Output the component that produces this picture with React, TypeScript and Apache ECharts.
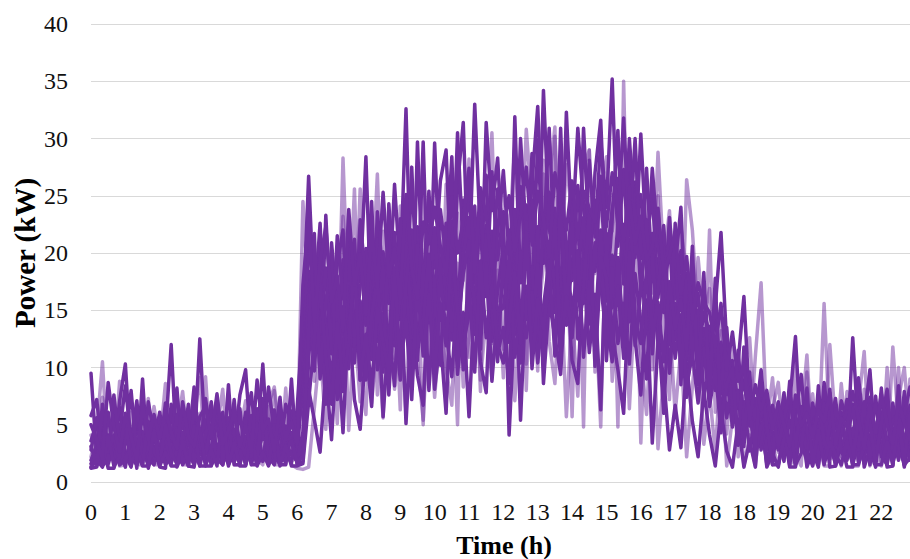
import { useEffect, useRef } from 'react';
import * as echarts from 'echarts';

// Hour labels shown under the axis (one label every 6 samples of 10 minutes)
const hourTicks = [0, 1, 2, 3, 4, 5, 6, 7, 8, 9, 10, 11, 12, 13, 14, 15, 16, 17, 18, 18, 19, 20, 21, 22];
const SAMPLES_PER_TICK = 6;

// Daily load profiles, kW, 10-minute samples (dark traces)
const day1 = [
  9.5, 2.1, 4.8, 1.6, 3.2, 6.5, 2.4, 1.3, 5.1, 3.0, 1.4, 2.6,
  1.5, 4.2, 12.0, 2.2, 1.6, 5.3, 2.8, 1.4, 3.6, 7.0, 2.0, 1.5,
  4.4, 1.8, 2.9, 6.1, 1.6, 3.3, 10.3, 2.2, 1.5, 4.7, 2.6, 1.6,
  6.5, 14.2, 26.7, 15.3, 22.6, 12.1, 17.5, 9.8, 19.4, 13.0, 21.2, 11.4,
  16.8, 24.5, 12.3, 20.1, 15.6, 26.0, 18.2, 32.6, 14.8, 22.3, 17.1, 25.4,
  15.2, 23.8, 19.5, 28.4, 14.1, 24.6, 18.8, 33.0, 21.5, 16.2, 27.1, 19.4,
  23.6, 4.1, 14.5, 25.8, 18.6, 28.7, 17.3, 34.2, 22.5, 16.4, 27.4, 20.2,
  17.6, 25.9, 19.3, 28.1, 21.4, 29.8, 24.0, 35.2, 20.6, 27.3, 18.9, 26.2,
  16.4, 22.8, 13.7, 19.5, 15.1, 21.3, 12.4, 18.0, 10.6, 15.2, 9.3, 12.8,
  8.4, 11.6, 6.2, 9.1, 4.8, 7.3, 3.6, 6.4, 2.2, 5.1, 1.6, 4.4,
  2.8, 6.3, 1.5, 4.9, 3.1, 7.2, 1.6, 5.5, 2.4, 8.1, 1.5, 4.6,
  3.3, 6.8, 1.7, 5.2, 9.8, 2.5, 4.1, 7.4, 1.6, 3.8, 6.0, 2.3,
];
const day2 = [
  3.6, 5.2, 1.8, 4.1, 2.5, 7.1, 10.3, 2.2, 1.5, 6.2, 3.1, 1.7,
  5.4, 2.2, 1.6, 3.9, 6.3, 1.8, 2.7, 12.5, 3.4, 1.6, 5.8, 2.5,
  1.6, 6.4, 3.2, 1.5, 4.6, 2.1, 5.7, 1.6, 3.5, 7.4, 1.8, 4.3,
  2.1, 9.5, 18.4, 11.2, 20.8, 8.3, 16.1, 13.6, 7.9, 22.0, 10.4, 17.3,
  28.4, 13.5, 19.8, 9.6, 24.3, 16.7, 21.9, 12.8, 27.5, 15.4, 29.7, 13.9,
  29.6, 17.2, 22.6, 12.4, 25.9, 31.4, 16.3, 20.8, 14.6, 31.4, 23.7, 28.3,
  18.9, 13.7, 31.9, 17.4, 24.2, 15.6, 29.9, 19.1, 25.3, 14.8, 30.9, 17.6,
  24.7, 16.5, 30.9, 21.2, 18.4, 26.6, 15.8, 22.9, 30.7, 17.3, 29.1, 19.6,
  30.4, 20.7, 25.3, 16.1, 22.4, 13.9, 18.8, 24.0, 11.5, 16.6, 9.8, 13.4,
  10.2, 15.3, 21.8, 12.0, 7.6, 10.5, 16.2, 6.8, 4.5, 8.2, 3.1, 6.7,
  4.2, 1.8, 6.9, 12.7, 3.5, 2.6, 5.8, 1.5, 7.4, 3.2, 1.6, 6.1,
  2.4, 12.6, 4.3, 1.6, 6.5, 3.0, 8.2, 1.5, 4.7, 2.2, 7.9, 3.6,
];
const day3 = [
  1.2, 1.3, 3.4, 1.2, 1.2, 2.8, 1.3, 4.6, 1.2, 9.0, 1.2, 3.1,
  1.3, 1.2, 6.8, 1.3, 2.5, 1.4, 1.3, 4.2, 1.4, 1.4, 3.3, 1.5,
  8.5, 1.5, 1.5, 3.8, 1.5, 1.5, 5.6, 1.5, 2.4, 1.5, 1.5, 6.2,
  1.5, 3.2, 8.1, 5.4, 2.6, 9.7, 3.7, 12.3, 4.3, 14.6, 7.2, 4.6,
  11.8, 6.6, 16.9, 5.7, 13.2, 8.4, 18.5, 5.1, 14.7, 9.3, 6.7, 17.2,
  8.1, 12.6, 6.0, 18.4, 9.4, 14.8, 5.7, 16.3, 10.5, 7.8, 19.6, 11.2,
  13.5, 8.6, 20.4, 5.4, 17.1, 11.9, 22.3, 8.6, 15.8, 12.7, 9.4, 18.3,
  10.6, 8.6, 19.2, 11.3, 16.4, 6.3, 21.7, 13.1, 9.8, 6.0, 17.4, 12.5,
  7.6, 15.9, 3.4, 12.2, 9.1, 2.8, 6.7, 3.0, 10.4, 5.3, 2.2, 8.0,
  4.1, 1.4, 6.3, 2.7, 1.3, 5.2, 1.3, 3.6, 1.3, 7.1, 1.3, 2.5,
  1.3, 4.4, 1.3, 1.3, 6.2, 1.3, 2.7, 1.3, 5.3, 1.3, 1.4, 3.5,
  1.3, 1.3, 7.6, 1.3, 2.9, 1.3, 5.8, 1.3, 1.4, 8.4, 1.3, 4.2,
];
const day4 = [
  5.8, 7.2, 2.3, 6.1, 1.5, 4.3, 8.4, 3.6, 5.5, 1.6, 7.0, 4.2,
  2.6, 6.9, 3.5, 8.2, 1.7, 4.8, 6.6, 2.4, 7.3, 3.8, 5.0, 1.7,
  5.6, 3.1, 7.6, 9.8, 2.7, 6.4, 3.9, 8.3, 4.4, 2.3, 6.8, 5.1,
  4.0, 7.5, 21.3, 16.4, 9.7, 23.3, 13.5, 19.0, 22.0, 11.8, 18.6, 8.9,
  20.4, 10.7, 23.6, 17.9, 11.3, 21.8, 14.2, 24.7, 11.6, 29.7, 16.5, 22.4,
  18.7, 26.3, 29.0, 16.9, 30.5, 20.2, 25.6, 17.4, 22.9, 26.8, 15.7, 21.9,
  27.2, 19.8, 16.6, 30.0, 21.5, 26.1, 32.8, 20.4, 18.2, 23.9, 15.3, 32.3,
  21.6, 30.9, 24.2, 17.7, 27.0, 31.6, 19.4, 23.8, 26.5, 18.1, 30.0, 22.7,
  25.1, 18.6, 27.4, 20.9, 14.8, 23.1, 17.0, 20.2, 14.5, 18.7, 12.1, 16.9,
  11.3, 14.5, 9.2, 12.8, 7.6, 10.9, 5.3, 8.8, 4.0, 6.9, 2.8, 5.7,
  3.9, 7.8, 2.5, 5.6, 9.4, 3.3, 6.6, 2.1, 8.7, 4.5, 3.0, 7.1,
  5.3, 2.7, 9.1, 4.6, 3.1, 7.5, 2.2, 6.3, 4.0, 1.9, 5.9, 8.3,
];
const day5 = [
  1.9, 3.2, 1.4, 2.0, 6.7, 1.5, 1.9, 2.8, 1.5, 4.4, 2.0, 1.5,
  3.1, 1.5, 2.2, 5.9, 1.5, 2.6, 1.5, 3.8, 5.4, 1.5, 2.3, 4.2,
  1.5, 2.5, 6.4, 1.5, 3.1, 1.6, 2.2, 4.8, 1.6, 2.9, 1.6, 9.0,
  1.6, 1.8, 10.5, 19.8, 14.3, 6.8, 20.9, 15.2, 10.8, 17.1, 13.3, 20.3,
  13.7, 18.4, 9.8, 14.9, 21.7, 11.9, 16.3, 19.6, 8.8, 19.3, 12.8, 15.5,
  22.2, 14.1, 16.8, 21.0, 11.6, 19.7, 23.1, 12.9, 17.8, 22.4, 12.3, 16.7,
  20.5, 16.1, 23.8, 13.6, 19.9, 24.6, 14.7, 21.2, 30.9, 19.6, 22.1, 13.7,
  19.2, 22.4, 15.6, 20.4, 24.6, 16.5, 20.1, 15.2, 22.8, 31.8, 21.5, 30.0,
  19.5, 27.4, 18.1, 23.4, 17.7, 21.1, 16.0, 19.7, 13.2, 17.4, 11.0, 14.8,
  13.0, 9.4, 12.2, 7.9, 10.6, 6.5, 8.9, 4.9, 7.3, 2.8, 5.2, 1.5,
  6.0, 2.4, 4.0, 1.4, 5.1, 2.8, 1.4, 8.4, 2.1, 6.2, 1.4, 4.1,
  7.2, 1.5, 3.6, 6.1, 1.5, 4.8, 2.3, 1.5, 6.9, 3.1, 1.5, 5.4,
];
const day9 = [
  2.8, 5.6, 3.9, 1.7, 7.6, 3.0, 4.7, 2.1, 6.4, 2.5, 4.9, 3.4,
  6.1, 2.7, 4.4, 1.8, 5.5, 3.2, 8.3, 2.6, 4.1, 6.2, 1.9, 5.3,
  3.0, 4.6, 1.9, 5.2, 7.8, 2.6, 4.0, 3.1, 5.6, 1.8, 4.9, 3.3,
  2.4, 13.8, 20.2, 17.6, 12.9, 18.7, 11.2, 21.5, 16.0, 19.1, 11.9, 22.9,
  17.4, 12.0, 21.2, 15.3, 19.0, 13.1, 23.0, 16.4, 12.6, 20.7, 14.9, 19.8,
  12.8, 19.4, 15.1, 22.8, 13.4, 18.2, 21.0, 14.7, 24.8, 17.0, 21.9, 13.6,
  17.8, 22.0, 12.9, 20.1, 14.2, 18.8, 12.2, 23.5, 16.0, 21.3, 13.9, 19.5,
  15.0, 18.5, 23.1, 13.8, 20.9, 17.2, 12.7, 19.8, 16.3, 22.5, 14.0, 21.2,
  18.8, 13.5, 21.7, 11.9, 17.8, 9.5, 15.6, 12.7, 7.4, 13.9, 16.5, 10.2,
  13.6, 8.0, 11.1, 5.6, 9.3, 3.9, 7.0, 2.7, 5.8, 3.3, 7.4, 2.9,
  5.7, 3.3, 8.8, 2.2, 4.7, 6.4, 2.6, 4.2, 6.9, 2.5, 5.4, 3.1,
  4.4, 6.6, 2.8, 5.0, 3.6, 6.8, 4.5, 2.6, 5.3, 6.2, 2.9, 6.7,
];
const day10 = [
  1.6, 2.4, 5.9, 3.1, 2.0, 4.2, 1.7, 3.6, 7.1, 1.9, 2.9, 5.5,
  2.2, 3.9, 1.7, 4.7, 2.9, 6.8, 1.8, 3.2, 2.4, 4.9, 1.7, 3.7,
  2.6, 7.2, 1.7, 4.0, 2.2, 5.1, 1.8, 2.9, 6.3, 1.8, 3.4, 2.4,
  1.8, 4.4, 16.3, 9.7, 18.1, 13.8, 8.6, 16.6, 10.1, 20.4, 12.7, 15.8,
  9.4, 20.6, 14.2, 18.8, 7.6, 16.0, 11.4, 20.9, 14.1, 10.6, 18.9, 8.0,
  16.9, 10.2, 20.5, 13.2, 17.5, 9.8, 19.4, 15.7, 11.6, 21.6, 15.0, 10.5,
  20.0, 12.2, 17.0, 10.4, 22.7, 13.2, 19.0, 11.3, 20.6, 17.3, 10.8, 21.0,
  12.6, 20.2, 10.9, 17.5, 13.0, 22.0, 10.6, 18.7, 12.1, 15.6, 10.3, 18.2,
  14.0, 9.0, 19.8, 13.8, 6.0, 16.3, 10.8, 14.6, 8.3, 11.2, 6.9, 11.7,
  6.6, 9.9, 4.3, 10.8, 5.9, 8.0, 3.1, 9.6, 2.5, 4.8, 6.0, 2.2,
  7.0, 3.8, 1.9, 5.9, 3.4, 1.9, 6.9, 4.0, 1.9, 5.0, 7.3, 2.6,
  1.9, 4.7, 3.1, 7.0, 2.2, 4.1, 6.1, 3.6, 1.9, 5.6, 3.9, 1.9,
];
const day11 = [
  3.1, 1.5, 6.8, 2.6, 4.1, 1.5, 3.3, 8.0, 2.3, 1.5, 5.3, 2.7,
  1.6, 5.0, 2.5, 1.6, 4.3, 1.7, 6.5, 4.6, 1.7, 2.9, 6.9, 1.7,
  5.1, 1.7, 3.5, 2.3, 5.8, 1.7, 7.3, 2.0, 1.7, 5.4, 2.8, 3.6,
  1.7, 2.3, 13.2, 21.7, 9.0, 15.7, 19.6, 7.2, 15.3, 9.9, 17.9, 14.1,
  8.9, 14.5, 17.8, 10.1, 21.5, 14.4, 8.9, 17.3, 22.0, 11.8, 13.7, 19.9,
  10.3, 18.0, 13.1, 9.2, 16.6, 12.1, 14.6, 24.1, 12.8, 19.1, 8.8, 14.9,
  15.2, 19.6, 10.9, 14.7, 12.6, 16.6, 10.4, 15.3, 19.3, 11.0, 25.2, 14.5,
  22.6, 12.5, 16.9, 23.4, 10.1, 18.9, 14.4, 10.5, 19.6, 12.9, 25.7, 14.3,
  12.1, 18.6, 11.2, 17.0, 20.5, 12.0, 22.6, 8.5, 18.2, 10.9, 15.0, 7.7,
  9.8, 12.3, 7.7, 13.5, 6.7, 11.5, 4.6, 8.2, 5.4, 9.8, 4.2, 5.9,
  3.2, 5.5, 7.9, 3.0, 6.6, 4.6, 2.0, 7.5, 3.6, 2.0, 6.4, 4.9,
  6.2, 2.0, 5.4, 3.3, 7.4, 1.9, 5.1, 8.1, 2.7, 4.4, 1.9, 6.0,
];
const day12 = [
  1.3, 1.9, 1.3, 4.0, 1.4, 2.2, 5.7, 1.4, 3.0, 1.4, 1.4, 4.5,
  1.4, 2.6, 1.4, 1.4, 3.6, 1.4, 4.9, 1.4, 1.4, 2.8, 1.4, 6.1,
  1.4, 3.4, 1.4, 1.4, 4.2, 1.4, 2.6, 1.4, 5.0, 1.4, 3.2, 1.4,
  1.4, 1.6, 7.0, 12.5, 17.3, 11.0, 6.8, 13.9, 8.7, 12.1, 19.3, 8.9,
  12.9, 8.2, 15.2, 12.2, 9.6, 18.7, 9.9, 14.2, 7.2, 17.3, 11.0, 16.4,
  9.5, 15.6, 11.9, 20.3, 15.0, 10.5, 17.0, 9.6, 19.3, 12.6, 17.2, 12.0,
  10.4, 14.0, 18.3, 12.1, 21.8, 9.9, 16.0, 13.4, 17.6, 22.9, 11.5, 16.2,
  13.3, 17.1, 11.9, 15.4, 11.6, 19.6, 17.8, 12.0, 17.1, 10.8, 20.1, 11.9,
  16.7, 22.9, 12.8, 15.7, 10.5, 17.5, 13.4, 15.9, 11.6, 20.6, 8.5, 18.3,
  7.4, 17.8, 5.0, 8.5, 9.9, 3.2, 11.8, 6.1, 3.0, 9.0, 4.9, 1.5,
  1.5, 3.7, 5.4, 1.5, 2.5, 8.2, 1.5, 4.5, 1.5, 3.5, 2.4, 1.5,
  3.6, 1.5, 1.5, 3.1, 5.3, 1.5, 1.5, 3.5, 1.5, 5.5, 1.5, 2.1,
];
const day13 = [
  5.0, 3.7, 2.0, 8.7, 4.8, 2.6, 6.0, 4.0, 1.9, 6.8, 3.7, 5.9,
  3.8, 6.2, 4.4, 2.9, 7.0, 4.0, 3.1, 5.7, 6.6, 3.9, 7.7, 3.3,
  4.5, 6.0, 3.1, 4.9, 2.6, 8.9, 4.5, 5.5, 2.7, 6.6, 3.7, 5.2,
  3.3, 17.2, 23.0, 14.0, 19.3, 22.3, 15.7, 18.0, 13.2, 23.8, 17.2, 19.9,
  14.6, 21.9, 17.0, 25.3, 17.9, 20.4, 16.0, 25.1, 18.8, 16.0, 22.7, 20.8,
  24.0, 20.6, 18.1, 24.9, 20.0, 22.8, 27.4, 18.3, 25.7, 23.3, 18.7, 25.6,
  22.1, 25.0, 20.2, 23.3, 27.5, 20.7, 25.4, 23.0, 19.7, 27.0, 24.3, 22.0,
  26.3, 21.3, 25.4, 23.9, 22.7, 26.7, 22.3, 27.0, 24.2, 21.1, 24.5, 20.8,
  23.2, 19.4, 20.5, 23.9, 18.4, 19.8, 21.8, 16.4, 19.7, 14.2, 17.4, 15.7,
  14.8, 11.8, 15.6, 9.8, 13.1, 8.8, 10.3, 5.5, 8.5, 6.3, 8.0, 4.6,
  6.9, 5.0, 3.1, 7.6, 4.9, 6.0, 3.9, 6.3, 5.3, 7.8, 3.3, 5.6,
  4.8, 7.9, 5.6, 2.9, 6.7, 4.3, 7.7, 5.0, 3.3, 7.0, 5.2, 3.7,
];

// Lighter traces
const day6 = [
  2.2, 4.5, 10.5, 1.8, 3.4, 1.7, 5.7, 2.6, 1.7, 3.8, 6.3, 1.8,
  4.9, 1.8, 2.9, 7.3, 1.9, 3.5, 1.8, 6.0, 2.7, 1.9, 4.6, 8.1,
  1.9, 5.5, 2.4, 1.9, 6.9, 3.6, 1.9, 4.4, 8.0, 2.5, 6.1, 1.9,
  2.0, 24.5, 15.8, 12.0, 21.5, 7.4, 16.8, 9.5, 28.3, 14.4, 25.6, 10.2,
  5.9, 19.2, 7.6, 21.9, 10.4, 17.3, 6.3, 22.8, 9.8, 18.0, 5.0, 20.6,
  14.3, 22.7, 8.5, 17.6, 5.0, 24.8, 10.9, 20.3, 7.9, 26.6, 12.1, 18.5,
  9.1, 21.4, 12.5, 27.3, 8.0, 23.0, 13.8, 19.0, 26.2, 31.0, 11.4, 22.6,
  5.7, 24.1, 4.8, 29.0, 9.6, 21.0, 13.5, 25.1, 4.8, 35.0, 12.3, 24.5,
  3.4, 16.7, 9.8, 25.0, 13.6, 7.2, 19.4, 10.1, 26.4, 22.0, 14.3, 8.5,
  22.0, 6.1, 13.2, 4.2, 9.7, 2.2, 7.5, 3.6, 11.0, 17.4, 5.0, 9.1,
  2.6, 6.4, 1.6, 10.3, 3.8, 1.6, 7.7, 2.9, 15.6, 4.4, 1.7, 8.6,
  3.1, 1.7, 6.8, 11.4, 2.5, 5.2, 1.7, 10.0, 3.7, 7.3, 10.0, 4.1,
];
const day7 = [
  1.4, 1.4, 2.7, 1.4, 5.2, 1.4, 1.5, 3.9, 1.5, 1.5, 7.3, 1.5,
  1.5, 3.0, 1.5, 6.4, 1.5, 1.5, 2.3, 1.5, 9.2, 1.5, 4.0, 1.5,
  3.2, 1.5, 1.5, 5.0, 1.5, 2.0, 1.5, 6.6, 1.5, 1.5, 8.2, 1.5,
  1.2, 1.1, 1.3, 6.5, 11.8, 4.6, 14.0, 5.1, 18.2, 4.5, 13.5, 7.0,
  15.7, 6.9, 12.9, 5.6, 16.8, 8.1, 14.0, 6.1, 20.0, 10.7, 5.4, 15.0,
  7.4, 13.8, 9.9, 6.7, 19.1, 8.3, 12.7, 21.3, 8.9, 14.4, 9.0, 24.9,
  11.6, 17.9, 7.1, 15.2, 10.3, 20.6, 9.7, 28.1, 12.3, 8.6, 17.6, 5.7,
  14.8, 7.5, 20.0, 12.6, 16.1, 4.8, 23.3, 8.8, 14.5, 19.4, 6.4, 16.0,
  11.2, 5.9, 15.3, 2.9, 9.4, 14.2, 6.0, 11.7, 2.2, 8.3, 13.9, 3.3,
  7.8, 2.6, 10.2, 1.4, 5.6, 8.7, 1.4, 4.1, 1.4, 6.3, 1.4, 3.2,
  1.4, 5.0, 1.4, 2.4, 1.4, 9.6, 1.4, 3.9, 1.4, 1.4, 6.0, 1.4,
  4.5, 1.4, 1.4, 8.1, 1.4, 2.7, 1.4, 5.5, 1.4, 10.0, 1.4, 3.0,
];
const day8 = [
  4.1, 2.9, 7.4, 5.0, 1.9, 8.8, 3.3, 6.1, 2.0, 4.9, 1.9, 6.6,
  3.3, 8.6, 2.0, 4.6, 7.9, 2.8, 5.6, 9.1, 2.1, 5.2, 7.2, 3.0,
  6.9, 2.2, 4.3, 7.1, 3.6, 5.9, 2.2, 6.8, 8.3, 4.0, 2.2, 7.6,
  3.0, 12.6, 19.5, 8.8, 16.7, 13.1, 20.2, 11.5, 23.2, 16.3, 12.4, 25.6,
  9.9, 16.2, 26.9, 13.3, 19.7, 10.8, 24.1, 14.6, 20.8, 12.0, 27.1, 9.3,
  21.4, 11.3, 26.0, 14.2, 23.5, 17.6, 28.2, 13.0, 24.4, 19.9, 30.5, 15.8,
  26.3, 21.5, 29.4, 18.4, 30.8, 24.0, 16.9, 26.9, 21.8, 30.2, 18.9, 27.7,
  23.4, 20.8, 27.5, 29.0, 18.2, 24.9, 28.4, 21.9, 26.0, 17.4, 23.6, 28.6,
  21.0, 26.4, 16.5, 28.8, 19.2, 23.7, 15.4, 22.3, 17.9, 12.8, 19.6, 14.0,
  16.9, 10.6, 14.1, 8.3, 11.9, 5.9, 9.6, 12.6, 4.4, 8.0, 2.1, 6.4,
  8.7, 3.6, 7.0, 1.8, 5.5, 11.1, 2.7, 6.8, 1.8, 12.0, 4.9, 2.2,
  7.9, 3.4, 1.8, 5.7, 9.5, 2.6, 7.1, 1.8, 11.8, 4.9, 2.0, 9.0,
];

const darkDays = [day1, day2, day3, day4, day5, day9, day10, day11, day12, day13];
const lightDays = [day6, day7, day8];

const DARK = '#7030A0';
const LIGHT = 'rgba(112, 48, 160, 0.5)';
const FONT = '"Liberation Serif", "Times New Roman", serif';

const categories = day1.map((_, i) => String(hourTicks[Math.floor(i / SAMPLES_PER_TICK)]));

function lineSeries(data: number[], color: string, name: string) {
  return {
    name,
    type: 'line',
    data,
    symbol: 'none',
    smooth: false,
    lineStyle: { color, width: 3.5, cap: 'round', join: 'round' },
    emphasis: { disabled: true },
  };
}

export default function App() {
  const ref = useRef<HTMLDivElement>(null);

  useEffect(() => {
    if (!ref.current) return;
    const chart = echarts.init(ref.current, undefined, { renderer: 'svg' });
    const series = [
      ...lightDays.map((d, i) => lineSeries(d, LIGHT, `light${i}`)),
      ...darkDays.map((d, i) => lineSeries(d, DARK, `dark${i}`)),
    ];
    chart.setOption({
      animation: false,
      backgroundColor: '#ffffff',
      grid: { left: 91, right: 0, top: 24, bottom: 77, containLabel: false },
      xAxis: {
        type: 'category',
        data: categories,
        boundaryGap: false,
        axisLine: { show: false },
        axisTick: { show: false },
        splitLine: { show: false },
        axisLabel: {
          interval: SAMPLES_PER_TICK - 1,
          fontFamily: FONT,
          fontSize: 24,
          color: '#111',
          margin: 18,
        },
      },
      yAxis: {
        type: 'value',
        min: 0,
        max: 40,
        interval: 5,
        axisLine: { show: false },
        axisTick: { show: false },
        splitLine: { show: true, lineStyle: { color: '#D9D9D9', width: 1 } },
        axisLabel: {
          fontFamily: FONT,
          fontSize: 24,
          color: '#111',
          margin: 23,
        },
      },
      graphic: [
        {
          type: 'text',
          x: 504,
          y: 545,
          style: {
            text: 'Time (h)',
            font: `bold 26px ${FONT}`,
            fill: '#000',
            textAlign: 'center',
            textVerticalAlign: 'middle',
          },
        },
        {
          type: 'text',
          x: 25,
          y: 253,
          rotation: Math.PI / 2,
          style: {
            text: 'Power (kW)',
            font: `bold 29px ${FONT}`,
            fill: '#000',
            textAlign: 'center',
            textVerticalAlign: 'middle',
          },
        },
      ],
      series,
    });
    return () => chart.dispose();
  }, []);

  return (
    <div
      ref={ref}
      style={{ position: 'fixed', left: 0, top: 0, width: 910, height: 559, background: '#fff' }}
    />
  );
}
